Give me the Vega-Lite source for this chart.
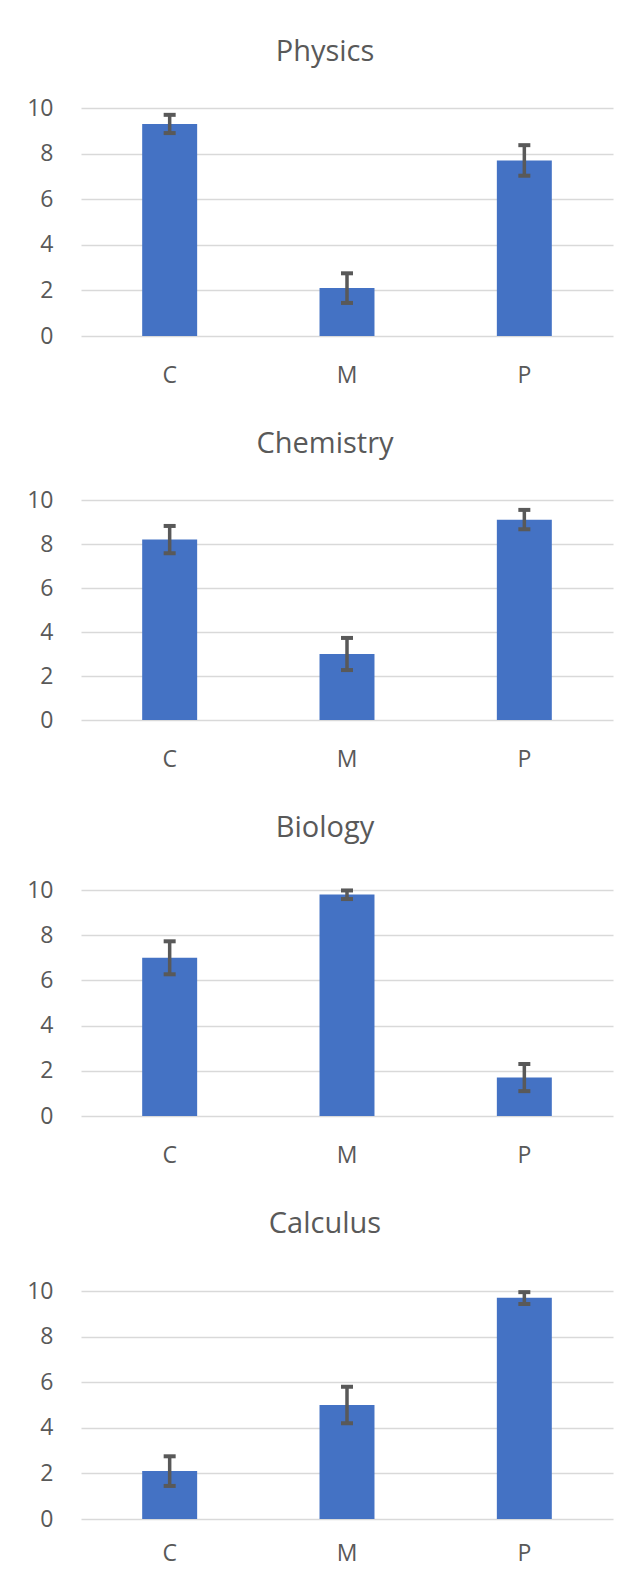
{
  "$schema": "https://vega.github.io/schema/vega-lite/v6.json",
  "background": "white",
  "padding": {"left": 26, "top": 38, "right": 10, "bottom": 0},
  "spacing": 43,
  "data": {"values": [
    {"subject": "Physics", "cat": "C", "value": 9.3, "lo": 8.9, "hi": 9.7},
    {"subject": "Physics", "cat": "M", "value": 2.1, "lo": 1.45, "hi": 2.75},
    {"subject": "Physics", "cat": "P", "value": 7.7, "lo": 7.03, "hi": 8.37},
    {"subject": "Chemistry", "cat": "C", "value": 8.2, "lo": 7.58, "hi": 8.82},
    {"subject": "Chemistry", "cat": "M", "value": 3.0, "lo": 2.27, "hi": 3.73},
    {"subject": "Chemistry", "cat": "P", "value": 9.1, "lo": 8.67, "hi": 9.55},
    {"subject": "Biology", "cat": "C", "value": 7.0, "lo": 6.27, "hi": 7.73},
    {"subject": "Biology", "cat": "M", "value": 9.8, "lo": 9.6, "hi": 9.98},
    {"subject": "Biology", "cat": "P", "value": 1.7, "lo": 1.1, "hi": 2.3},
    {"subject": "Calculus", "cat": "C", "value": 2.1, "lo": 1.45, "hi": 2.75},
    {"subject": "Calculus", "cat": "M", "value": 5.0, "lo": 4.2, "hi": 5.8},
    {"subject": "Calculus", "cat": "P", "value": 9.7, "lo": 9.43, "hi": 9.95}
  ]},
  "vconcat": [
    {
      "title": {"text": "Physics", "offset": 30},
      "width": 532, "height": 228,
      "transform": [{"filter": "datum.subject === 'Physics'"}],
      "encoding": {
        "x": {"field": "cat", "type": "nominal", "title": null, "scale": {"paddingInner": 0.69, "paddingOuter": 0.345}, "axis": {"labelAngle": 0}}
      },
      "layer": [
        {"mark": {"type": "bar", "color": "#4472C4"}, "encoding": {"y": {"field": "value", "type": "quantitative", "title": null, "scale": {"domain": [0, 10], "nice": false}, "axis": {"values": [0, 2, 4, 6, 8, 10]}}}},
        {"mark": {"type": "rule", "color": "#595959", "strokeWidth": 3.5}, "encoding": {"y": {"field": "lo", "type": "quantitative"}, "y2": {"field": "hi"}}},
        {"mark": {"type": "tick", "color": "#595959", "size": 12, "thickness": 4, "opacity": 1}, "encoding": {"y": {"field": "lo", "type": "quantitative"}}},
        {"mark": {"type": "tick", "color": "#595959", "size": 12, "thickness": 4, "opacity": 1}, "encoding": {"y": {"field": "hi", "type": "quantitative"}}}
      ]
    },
    {
      "title": {"text": "Chemistry", "offset": 30},
      "width": 532, "height": 220,
      "transform": [{"filter": "datum.subject === 'Chemistry'"}],
      "encoding": {
        "x": {"field": "cat", "type": "nominal", "title": null, "scale": {"paddingInner": 0.69, "paddingOuter": 0.345}, "axis": {"labelAngle": 0}}
      },
      "layer": [
        {"mark": {"type": "bar", "color": "#4472C4"}, "encoding": {"y": {"field": "value", "type": "quantitative", "title": null, "scale": {"domain": [0, 10], "nice": false}, "axis": {"values": [0, 2, 4, 6, 8, 10]}}}},
        {"mark": {"type": "rule", "color": "#595959", "strokeWidth": 3.5}, "encoding": {"y": {"field": "lo", "type": "quantitative"}, "y2": {"field": "hi"}}},
        {"mark": {"type": "tick", "color": "#595959", "size": 12, "thickness": 4, "opacity": 1}, "encoding": {"y": {"field": "lo", "type": "quantitative"}}},
        {"mark": {"type": "tick", "color": "#595959", "size": 12, "thickness": 4, "opacity": 1}, "encoding": {"y": {"field": "hi", "type": "quantitative"}}}
      ]
    },
    {
      "title": {"text": "Biology", "offset": 36},
      "width": 532, "height": 226,
      "transform": [{"filter": "datum.subject === 'Biology'"}],
      "encoding": {
        "x": {"field": "cat", "type": "nominal", "title": null, "scale": {"paddingInner": 0.69, "paddingOuter": 0.345}, "axis": {"labelAngle": 0}}
      },
      "layer": [
        {"mark": {"type": "bar", "color": "#4472C4"}, "encoding": {"y": {"field": "value", "type": "quantitative", "title": null, "scale": {"domain": [0, 10], "nice": false}, "axis": {"values": [0, 2, 4, 6, 8, 10]}}}},
        {"mark": {"type": "rule", "color": "#595959", "strokeWidth": 3.5}, "encoding": {"y": {"field": "lo", "type": "quantitative"}, "y2": {"field": "hi"}}},
        {"mark": {"type": "tick", "color": "#595959", "size": 12, "thickness": 4, "opacity": 1}, "encoding": {"y": {"field": "lo", "type": "quantitative"}}},
        {"mark": {"type": "tick", "color": "#595959", "size": 12, "thickness": 4, "opacity": 1}, "encoding": {"y": {"field": "hi", "type": "quantitative"}}}
      ]
    },
    {
      "title": {"text": "Calculus", "offset": 41},
      "width": 532, "height": 228,
      "transform": [{"filter": "datum.subject === 'Calculus'"}],
      "encoding": {
        "x": {"field": "cat", "type": "nominal", "title": null, "scale": {"paddingInner": 0.69, "paddingOuter": 0.345}, "axis": {"labelAngle": 0, "labelPadding": 23}}
      },
      "layer": [
        {"mark": {"type": "bar", "color": "#4472C4"}, "encoding": {"y": {"field": "value", "type": "quantitative", "title": null, "scale": {"domain": [0, 10], "nice": false}, "axis": {"values": [0, 2, 4, 6, 8, 10]}}}},
        {"mark": {"type": "rule", "color": "#595959", "strokeWidth": 3.5}, "encoding": {"y": {"field": "lo", "type": "quantitative"}, "y2": {"field": "hi"}}},
        {"mark": {"type": "tick", "color": "#595959", "size": 12, "thickness": 4, "opacity": 1}, "encoding": {"y": {"field": "lo", "type": "quantitative"}}},
        {"mark": {"type": "tick", "color": "#595959", "size": 12, "thickness": 4, "opacity": 1}, "encoding": {"y": {"field": "hi", "type": "quantitative"}}}
      ]
    }
  ],
  "config": {
    "view": {"stroke": null},
    "font": "Open Sans",
    "title": {"font": "Open Sans", "fontSize": 29, "fontWeight": "normal", "color": "#595959", "anchor": "middle", "dx": -22},
    "axis": {"labelFont": "Open Sans", "labelFontSize": 23, "labelColor": "#595959", "ticks": false, "grid": false},
    "axisX": {"domain": false, "labelPadding": 28},
    "axisY": {"domain": false, "grid": true, "gridColor": "#d9d9d9", "gridWidth": 1.5, "labelPadding": 28}
  }
}
